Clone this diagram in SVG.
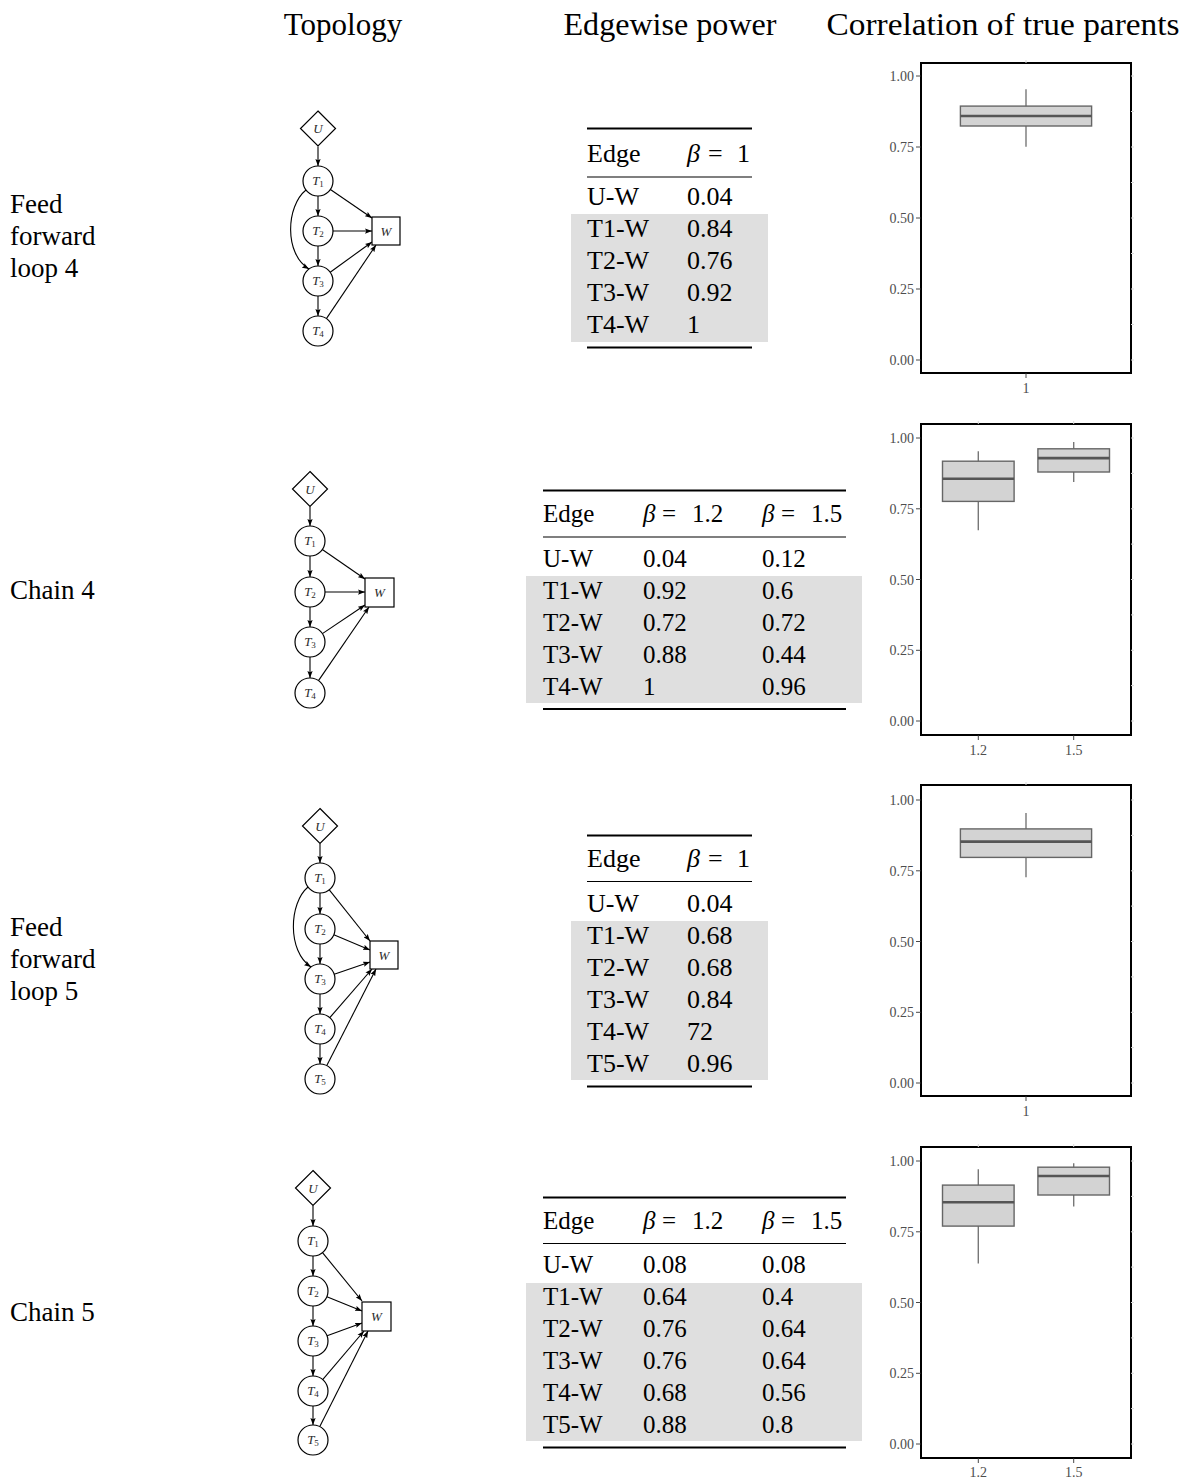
<svg xmlns="http://www.w3.org/2000/svg" width="1195" height="1479" viewBox="0 0 1195 1479" font-family="'Liberation Serif', 'Times New Roman', serif">
  <style>
    .hdr { font-size: 31px; fill: #000; text-anchor: middle; }
    .lbl { font-size: 27px; fill: #000; }
    .tb1 { font-size: 26px; fill: #000; }
    .tb2 { font-size: 25px; fill: #000; }
    .it { font-style: italic; }
    .nd { fill: #fff; stroke: #000; stroke-width: 1.2; }
    .nt { font-size: 13px; font-style: italic; fill: #2b2b2b; text-anchor: middle; }
    .sub { font-size: 9px; font-style: normal; }
    .edge { fill: none; stroke: #000; stroke-width: 1.1; marker-end: url(#arr); }
    .thick { stroke: #000; stroke-width: 1.8; }
    .thin { stroke: #000; stroke-width: 1.1; }
    .band { fill: #dfdfdf; }
    .panel { fill: #fff; stroke: #000; stroke-width: 2; }
    .ytl { font-size: 14px; fill: #4d4d4d; text-anchor: end; }
    .xtl { font-size: 14px; fill: #4d4d4d; text-anchor: middle; }
    .tick { stroke: #333; stroke-width: 0.9; }
    .grid { stroke: #d9d9d9; stroke-width: 1; }
    .box { fill: #d3d3d3; stroke: #666; stroke-width: 1.4; }
    .whisk { stroke: #777; stroke-width: 1.4; }
    .med { stroke: #555; stroke-width: 2.6; }
  </style>
  <defs>
    <marker id="arr" viewBox="0 0 8 6" refX="8" refY="3" markerWidth="7" markerHeight="5.5" markerUnits="userSpaceOnUse" orient="auto">
      <path d="M0,0 L8,3 L0,6 L1.5,3 z" fill="#000"/>
    </marker>
  </defs>
  <rect width="1195" height="1479" fill="#fff"/>

  <!-- column headers -->
  <g id="headers">
    <text class="hdr" x="343" y="35">Topology</text>
    <text class="hdr" x="670" y="35" textLength="213" lengthAdjust="spacingAndGlyphs">Edgewise power</text>
    <text class="hdr" x="1003" y="35" textLength="353" lengthAdjust="spacingAndGlyphs">Correlation of true parents</text>
  </g>

  <!-- row labels -->
  <g id="row-labels">
    <text class="lbl" x="10" y="213">Feed</text>
    <text class="lbl" x="10" y="245">forward</text>
    <text class="lbl" x="10" y="277">loop 4</text>
    <text class="lbl" x="10" y="599">Chain 4</text>
    <text class="lbl" x="10" y="936">Feed</text>
    <text class="lbl" x="10" y="968">forward</text>
    <text class="lbl" x="10" y="1000">loop 5</text>
    <text class="lbl" x="10" y="1321">Chain 5</text>
  </g>

  <!-- ================= Topology: feed forward loop 4 ================= -->
  <g id="ffl4-connectors">
    <line class="edge" x1="318" y1="146.5" x2="318" y2="166"/>
    <line class="edge" x1="318" y1="196" x2="318" y2="216"/>
    <line class="edge" x1="318" y1="246" x2="318" y2="266"/>
    <line class="edge" x1="318" y1="296" x2="318" y2="316"/>
    <path class="edge" d="M306,190 C286,206 284,254 309,269"/>
    <line class="edge" x1="330.4" y1="189.5" x2="372" y2="218"/>
    <line class="edge" x1="333" y1="231" x2="372" y2="231"/>
    <line class="edge" x1="330.2" y1="272.2" x2="372" y2="242"/>
    <line class="edge" x1="326.4" y1="318.6" x2="376" y2="245"/>
  </g>
  <g id="ffl4-U"><polygon class="nd" points="318,111 335.5,128.5 318,146 300.5,128.5"/><text class="nt" x="318" y="133">U</text></g>
  <g id="ffl4-T1"><circle class="nd" cx="318" cy="181" r="15"/><text class="nt" x="318" y="185">T<tspan class="sub" dy="2">1</tspan></text></g>
  <g id="ffl4-T2"><circle class="nd" cx="318" cy="231" r="15"/><text class="nt" x="318" y="235">T<tspan class="sub" dy="2">2</tspan></text></g>
  <g id="ffl4-T3"><circle class="nd" cx="318" cy="281" r="15"/><text class="nt" x="318" y="285">T<tspan class="sub" dy="2">3</tspan></text></g>
  <g id="ffl4-T4"><circle class="nd" cx="318" cy="331" r="15"/><text class="nt" x="318" y="335">T<tspan class="sub" dy="2">4</tspan></text></g>
  <g id="ffl4-W"><rect class="nd" x="372" y="217" width="28" height="28"/><text class="nt" x="386" y="235.5">W</text></g>

  <!-- ================= Topology: chain 4 ================= -->
  <g id="chain4-connectors">
    <line class="edge" x1="310" y1="506.5" x2="310" y2="526"/>
    <line class="edge" x1="310" y1="556" x2="310" y2="577"/>
    <line class="edge" x1="310" y1="607" x2="310" y2="627"/>
    <line class="edge" x1="310" y1="657" x2="310" y2="678"/>
    <line class="edge" x1="322.3" y1="549.5" x2="365" y2="579"/>
    <line class="edge" x1="325" y1="592" x2="365" y2="592"/>
    <line class="edge" x1="322.4" y1="633.6" x2="365" y2="605"/>
    <line class="edge" x1="318.5" y1="680.6" x2="369" y2="607"/>
  </g>
  <g id="chain4-U"><polygon class="nd" points="310,471.5 327.5,489 310,506.5 292.5,489"/><text class="nt" x="310" y="493.5">U</text></g>
  <g id="chain4-T1"><circle class="nd" cx="310" cy="541" r="15"/><text class="nt" x="310" y="545">T<tspan class="sub" dy="2">1</tspan></text></g>
  <g id="chain4-T2"><circle class="nd" cx="310" cy="592" r="15"/><text class="nt" x="310" y="596">T<tspan class="sub" dy="2">2</tspan></text></g>
  <g id="chain4-T3"><circle class="nd" cx="310" cy="642" r="15"/><text class="nt" x="310" y="646">T<tspan class="sub" dy="2">3</tspan></text></g>
  <g id="chain4-T4"><circle class="nd" cx="310" cy="693" r="15"/><text class="nt" x="310" y="697">T<tspan class="sub" dy="2">4</tspan></text></g>
  <g id="chain4-W"><rect class="nd" x="365" y="578" width="29" height="29"/><text class="nt" x="379.5" y="597">W</text></g>

  <!-- ================= Topology: feed forward loop 5 ================= -->
  <g id="ffl5-connectors">
    <line class="edge" x1="320" y1="843.5" x2="320" y2="863"/>
    <line class="edge" x1="320" y1="893" x2="320" y2="914"/>
    <line class="edge" x1="320" y1="944" x2="320" y2="964"/>
    <line class="edge" x1="320" y1="994" x2="320" y2="1014"/>
    <line class="edge" x1="320" y1="1044" x2="320" y2="1064"/>
    <path class="edge" d="M308,887 C289,903 287,951 311,967"/>
    <line class="edge" x1="329.3" y1="889.8" x2="370" y2="941"/>
    <line class="edge" x1="333.8" y1="934.8" x2="370" y2="950"/>
    <line class="edge" x1="334.2" y1="974.2" x2="370" y2="962"/>
    <line class="edge" x1="329.8" y1="1017.7" x2="372" y2="969"/>
    <line class="edge" x1="326.8" y1="1065.6" x2="376" y2="969"/>
  </g>
  <g id="ffl5-U"><polygon class="nd" points="320,808.5 337.5,826 320,843.5 302.5,826"/><text class="nt" x="320" y="830.5">U</text></g>
  <g id="ffl5-T1"><circle class="nd" cx="320" cy="878" r="15"/><text class="nt" x="320" y="882">T<tspan class="sub" dy="2">1</tspan></text></g>
  <g id="ffl5-T2"><circle class="nd" cx="320" cy="929" r="15"/><text class="nt" x="320" y="933">T<tspan class="sub" dy="2">2</tspan></text></g>
  <g id="ffl5-T3"><circle class="nd" cx="320" cy="979" r="15"/><text class="nt" x="320" y="983">T<tspan class="sub" dy="2">3</tspan></text></g>
  <g id="ffl5-T4"><circle class="nd" cx="320" cy="1029" r="15"/><text class="nt" x="320" y="1033">T<tspan class="sub" dy="2">4</tspan></text></g>
  <g id="ffl5-T5"><circle class="nd" cx="320" cy="1079" r="15"/><text class="nt" x="320" y="1083">T<tspan class="sub" dy="2">5</tspan></text></g>
  <g id="ffl5-W"><rect class="nd" x="370" y="941" width="28" height="28"/><text class="nt" x="384" y="959.5">W</text></g>

  <!-- ================= Topology: chain 5 ================= -->
  <g id="chain5-connectors">
    <line class="edge" x1="313" y1="1205.5" x2="313" y2="1226"/>
    <line class="edge" x1="313" y1="1256" x2="313" y2="1276"/>
    <line class="edge" x1="313" y1="1306" x2="313" y2="1326"/>
    <line class="edge" x1="313" y1="1356" x2="313" y2="1376"/>
    <line class="edge" x1="313" y1="1406" x2="313" y2="1425"/>
    <line class="edge" x1="322.5" y1="1252.6" x2="362" y2="1301"/>
    <line class="edge" x1="326.9" y1="1296.7" x2="362" y2="1311"/>
    <line class="edge" x1="327.1" y1="1335.8" x2="362" y2="1323"/>
    <line class="edge" x1="322.7" y1="1379.6" x2="364" y2="1331"/>
    <line class="edge" x1="319.8" y1="1426.6" x2="368" y2="1331"/>
  </g>
  <g id="chain5-U"><polygon class="nd" points="313,1170.5 330.5,1188 313,1205.5 295.5,1188"/><text class="nt" x="313" y="1192.5">U</text></g>
  <g id="chain5-T1"><circle class="nd" cx="313" cy="1241" r="15"/><text class="nt" x="313" y="1245">T<tspan class="sub" dy="2">1</tspan></text></g>
  <g id="chain5-T2"><circle class="nd" cx="313" cy="1291" r="15"/><text class="nt" x="313" y="1295">T<tspan class="sub" dy="2">2</tspan></text></g>
  <g id="chain5-T3"><circle class="nd" cx="313" cy="1341" r="15"/><text class="nt" x="313" y="1345">T<tspan class="sub" dy="2">3</tspan></text></g>
  <g id="chain5-T4"><circle class="nd" cx="313" cy="1391" r="15"/><text class="nt" x="313" y="1395">T<tspan class="sub" dy="2">4</tspan></text></g>
  <g id="chain5-T5"><circle class="nd" cx="313" cy="1440" r="15"/><text class="nt" x="313" y="1444">T<tspan class="sub" dy="2">5</tspan></text></g>
  <g id="chain5-W"><rect class="nd" x="362" y="1302" width="29" height="29"/><text class="nt" x="376.5" y="1321">W</text></g>

  <!-- ================= Edgewise power tables ================= -->
  <g id="table-ffl4" class="tb1">
    <rect class="band" x="571" y="214" width="197" height="128"/>
    <line class="thick" x1="587" y1="128.5" x2="752" y2="128.5"/>
    <text x="587" y="162">Edge</text>
    <text x="687" y="162"><tspan class="it">β</tspan><tspan x="708">=</tspan><tspan x="737">1</tspan></text>
    <line class="thin" x1="587" y1="177" x2="752" y2="177"/>
    <text x="587" y="205">U-W</text><text x="687" y="205">0.04</text>
    <text x="587" y="237">T1-W</text><text x="687" y="237">0.84</text>
    <text x="587" y="269">T2-W</text><text x="687" y="269">0.76</text>
    <text x="587" y="301">T3-W</text><text x="687" y="301">0.92</text>
    <text x="587" y="333">T4-W</text><text x="687" y="333">1</text>
    <line class="thick" x1="587" y1="347.5" x2="752" y2="347.5"/>
  </g>

  <g id="table-chain4" class="tb2">
    <rect class="band" x="526" y="576" width="336" height="127"/>
    <line class="thick" x1="543" y1="490.5" x2="846" y2="490.5"/>
    <text x="543" y="522">Edge</text>
    <text x="643" y="522"><tspan class="it">β</tspan><tspan x="662">=</tspan><tspan x="692">1.2</tspan></text>
    <text x="762" y="522"><tspan class="it">β</tspan><tspan x="781">=</tspan><tspan x="811">1.5</tspan></text>
    <line class="thin" x1="543" y1="537" x2="846" y2="537"/>
    <text x="543" y="567">U-W</text><text x="643" y="567">0.04</text><text x="762" y="567">0.12</text>
    <text x="543" y="599">T1-W</text><text x="643" y="599">0.92</text><text x="762" y="599">0.6</text>
    <text x="543" y="631">T2-W</text><text x="643" y="631">0.72</text><text x="762" y="631">0.72</text>
    <text x="543" y="663">T3-W</text><text x="643" y="663">0.88</text><text x="762" y="663">0.44</text>
    <text x="543" y="695">T4-W</text><text x="643" y="695">1</text><text x="762" y="695">0.96</text>
    <line class="thick" x1="543" y1="709" x2="846" y2="709"/>
  </g>

  <g id="table-ffl5" class="tb1">
    <rect class="band" x="571" y="921" width="197" height="159"/>
    <line class="thick" x1="587" y1="835.5" x2="752" y2="835.5"/>
    <text x="587" y="867">Edge</text>
    <text x="687" y="867"><tspan class="it">β</tspan><tspan x="708">=</tspan><tspan x="737">1</tspan></text>
    <line class="thin" x1="587" y1="881.5" x2="752" y2="881.5"/>
    <text x="587" y="912">U-W</text><text x="687" y="912">0.04</text>
    <text x="587" y="944">T1-W</text><text x="687" y="944">0.68</text>
    <text x="587" y="976">T2-W</text><text x="687" y="976">0.68</text>
    <text x="587" y="1008">T3-W</text><text x="687" y="1008">0.84</text>
    <text x="587" y="1040">T4-W</text><text x="687" y="1040">72</text>
    <text x="587" y="1072">T5-W</text><text x="687" y="1072">0.96</text>
    <line class="thick" x1="587" y1="1086.5" x2="752" y2="1086.5"/>
  </g>

  <g id="table-chain5" class="tb2">
    <rect class="band" x="526" y="1283" width="336" height="158"/>
    <line class="thick" x1="543" y1="1197.5" x2="846" y2="1197.5"/>
    <text x="543" y="1229">Edge</text>
    <text x="643" y="1229"><tspan class="it">β</tspan><tspan x="662">=</tspan><tspan x="692">1.2</tspan></text>
    <text x="762" y="1229"><tspan class="it">β</tspan><tspan x="781">=</tspan><tspan x="811">1.5</tspan></text>
    <line class="thin" x1="543" y1="1243.5" x2="846" y2="1243.5"/>
    <text x="543" y="1273">U-W</text><text x="643" y="1273">0.08</text><text x="762" y="1273">0.08</text>
    <text x="543" y="1305">T1-W</text><text x="643" y="1305">0.64</text><text x="762" y="1305">0.4</text>
    <text x="543" y="1337">T2-W</text><text x="643" y="1337">0.76</text><text x="762" y="1337">0.64</text>
    <text x="543" y="1369">T3-W</text><text x="643" y="1369">0.76</text><text x="762" y="1369">0.64</text>
    <text x="543" y="1401">T4-W</text><text x="643" y="1401">0.68</text><text x="762" y="1401">0.56</text>
    <text x="543" y="1433">T5-W</text><text x="643" y="1433">0.88</text><text x="762" y="1433">0.8</text>
    <line class="thick" x1="543" y1="1447.5" x2="846" y2="1447.5"/>
  </g>

  <!-- ================= Correlation box plots ================= -->
  <!-- plot 1: single group, y(v) = 360 - 284 v -->
  <g id="plot-ffl4">
    <rect class="panel" x="921" y="63" width="210" height="310"/>
    <g class="grid">
      <line x1="1131" y1="76" x2="1134" y2="76"/><line x1="1131" y1="111.5" x2="1134" y2="111.5"/>
      <line x1="1131" y1="147" x2="1134" y2="147"/><line x1="1131" y1="182.5" x2="1134" y2="182.5"/>
      <line x1="1131" y1="218" x2="1134" y2="218"/><line x1="1131" y1="253.5" x2="1134" y2="253.5"/>
      <line x1="1131" y1="289" x2="1134" y2="289"/><line x1="1131" y1="324.5" x2="1134" y2="324.5"/>
      <line x1="1131" y1="360" x2="1134" y2="360"/><line x1="1026" y1="60" x2="1026" y2="63"/>
    </g>
    <g class="tick">
      <line x1="916" y1="76" x2="921" y2="76"/><line x1="916" y1="147" x2="921" y2="147"/>
      <line x1="916" y1="218" x2="921" y2="218"/><line x1="916" y1="289" x2="921" y2="289"/>
      <line x1="916" y1="360" x2="921" y2="360"/><line x1="1026" y1="373" x2="1026" y2="378"/>
    </g>
    <text class="ytl" x="914" y="81">1.00</text><text class="ytl" x="914" y="152">0.75</text>
    <text class="ytl" x="914" y="223">0.50</text><text class="ytl" x="914" y="294">0.25</text>
    <text class="ytl" x="914" y="365">0.00</text>
    <text class="xtl" x="1026" y="393">1</text>
    <line class="whisk" x1="1026" y1="89.3" x2="1026" y2="146.7"/>
    <rect class="box" x="960.4" y="106.1" width="131.2" height="19.9"/>
    <line class="med" x1="960.4" y1="116" x2="1091.6" y2="116"/>
  </g>

  <!-- plot 2: two groups, y(v) = 721 - 283 v -->
  <g id="plot-chain4">
    <rect class="panel" x="921" y="424" width="210" height="311"/>
    <g class="grid">
      <line x1="1131" y1="438" x2="1134" y2="438"/><line x1="1131" y1="473.4" x2="1134" y2="473.4"/>
      <line x1="1131" y1="508.8" x2="1134" y2="508.8"/><line x1="1131" y1="544.1" x2="1134" y2="544.1"/>
      <line x1="1131" y1="579.5" x2="1134" y2="579.5"/><line x1="1131" y1="614.9" x2="1134" y2="614.9"/>
      <line x1="1131" y1="650.3" x2="1134" y2="650.3"/><line x1="1131" y1="685.6" x2="1134" y2="685.6"/>
      <line x1="1131" y1="721" x2="1134" y2="721"/>
      <line x1="978.3" y1="421" x2="978.3" y2="424"/><line x1="1073.7" y1="421" x2="1073.7" y2="424"/>
    </g>
    <g class="tick">
      <line x1="916" y1="438" x2="921" y2="438"/><line x1="916" y1="508.8" x2="921" y2="508.8"/>
      <line x1="916" y1="579.5" x2="921" y2="579.5"/><line x1="916" y1="650.3" x2="921" y2="650.3"/>
      <line x1="916" y1="721" x2="921" y2="721"/>
      <line x1="978.3" y1="735" x2="978.3" y2="740"/><line x1="1073.7" y1="735" x2="1073.7" y2="740"/>
    </g>
    <text class="ytl" x="914" y="443">1.00</text><text class="ytl" x="914" y="513.8">0.75</text>
    <text class="ytl" x="914" y="584.5">0.50</text><text class="ytl" x="914" y="655.3">0.25</text>
    <text class="ytl" x="914" y="726">0.00</text>
    <text class="xtl" x="978.3" y="755">1.2</text><text class="xtl" x="1073.7" y="755">1.5</text>
    <line class="whisk" x1="978.3" y1="451.3" x2="978.3" y2="530.3"/>
    <rect class="box" x="942.5" y="461.2" width="71.6" height="40.2"/>
    <line class="med" x1="942.5" y1="478.8" x2="1014.1" y2="478.8"/>
    <line class="whisk" x1="1073.7" y1="442" x2="1073.7" y2="481.9"/>
    <rect class="box" x="1037.9" y="448.8" width="71.6" height="23.2"/>
    <line class="med" x1="1037.9" y1="458.1" x2="1109.5" y2="458.1"/>
  </g>

  <!-- plot 3: single group, y(v) = 1083 - 283 v -->
  <g id="plot-ffl5">
    <rect class="panel" x="921" y="785" width="210" height="311"/>
    <g class="grid">
      <line x1="1131" y1="800" x2="1134" y2="800"/><line x1="1131" y1="835.4" x2="1134" y2="835.4"/>
      <line x1="1131" y1="870.8" x2="1134" y2="870.8"/><line x1="1131" y1="906.1" x2="1134" y2="906.1"/>
      <line x1="1131" y1="941.5" x2="1134" y2="941.5"/><line x1="1131" y1="976.9" x2="1134" y2="976.9"/>
      <line x1="1131" y1="1012.3" x2="1134" y2="1012.3"/><line x1="1131" y1="1047.6" x2="1134" y2="1047.6"/>
      <line x1="1131" y1="1083" x2="1134" y2="1083"/><line x1="1026" y1="782" x2="1026" y2="785"/>
    </g>
    <g class="tick">
      <line x1="916" y1="800" x2="921" y2="800"/><line x1="916" y1="870.8" x2="921" y2="870.8"/>
      <line x1="916" y1="941.5" x2="921" y2="941.5"/><line x1="916" y1="1012.3" x2="921" y2="1012.3"/>
      <line x1="916" y1="1083" x2="921" y2="1083"/><line x1="1026" y1="1096" x2="1026" y2="1101"/>
    </g>
    <text class="ytl" x="914" y="805">1.00</text><text class="ytl" x="914" y="875.8">0.75</text>
    <text class="ytl" x="914" y="946.5">0.50</text><text class="ytl" x="914" y="1017.3">0.25</text>
    <text class="ytl" x="914" y="1088">0.00</text>
    <text class="xtl" x="1026" y="1116">1</text>
    <line class="whisk" x1="1026" y1="813" x2="1026" y2="877.3"/>
    <rect class="box" x="960.4" y="828.9" width="131.2" height="28.5"/>
    <line class="med" x1="960.4" y1="841.6" x2="1091.6" y2="841.6"/>
  </g>

  <!-- plot 4: two groups, y(v) = 1444 - 283 v -->
  <g id="plot-chain5">
    <rect class="panel" x="921" y="1147" width="210" height="311"/>
    <g class="grid">
      <line x1="1131" y1="1161" x2="1134" y2="1161"/><line x1="1131" y1="1196.4" x2="1134" y2="1196.4"/>
      <line x1="1131" y1="1231.8" x2="1134" y2="1231.8"/><line x1="1131" y1="1267.1" x2="1134" y2="1267.1"/>
      <line x1="1131" y1="1302.5" x2="1134" y2="1302.5"/><line x1="1131" y1="1337.9" x2="1134" y2="1337.9"/>
      <line x1="1131" y1="1373.3" x2="1134" y2="1373.3"/><line x1="1131" y1="1408.6" x2="1134" y2="1408.6"/>
      <line x1="1131" y1="1444" x2="1134" y2="1444"/>
      <line x1="978.3" y1="1144" x2="978.3" y2="1147"/><line x1="1073.7" y1="1144" x2="1073.7" y2="1147"/>
    </g>
    <g class="tick">
      <line x1="916" y1="1161" x2="921" y2="1161"/><line x1="916" y1="1231.8" x2="921" y2="1231.8"/>
      <line x1="916" y1="1302.5" x2="921" y2="1302.5"/><line x1="916" y1="1373.3" x2="921" y2="1373.3"/>
      <line x1="916" y1="1444" x2="921" y2="1444"/>
      <line x1="978.3" y1="1458" x2="978.3" y2="1463"/><line x1="1073.7" y1="1458" x2="1073.7" y2="1463"/>
    </g>
    <text class="ytl" x="914" y="1166">1.00</text><text class="ytl" x="914" y="1236.8">0.75</text>
    <text class="ytl" x="914" y="1307.5">0.50</text><text class="ytl" x="914" y="1378.3">0.25</text>
    <text class="ytl" x="914" y="1449">0.00</text>
    <text class="xtl" x="978.3" y="1477">1.2</text><text class="xtl" x="1073.7" y="1477">1.5</text>
    <line class="whisk" x1="978.3" y1="1169.2" x2="978.3" y2="1263.4"/>
    <rect class="box" x="942.5" y="1185.1" width="71.6" height="41"/>
    <line class="med" x1="942.5" y1="1202.3" x2="1014.1" y2="1202.3"/>
    <line class="whisk" x1="1073.7" y1="1163.3" x2="1073.7" y2="1206.6"/>
    <rect class="box" x="1037.9" y="1167.2" width="71.6" height="27.8"/>
    <line class="med" x1="1037.9" y1="1176" x2="1109.5" y2="1176"/>
  </g>
</svg>
